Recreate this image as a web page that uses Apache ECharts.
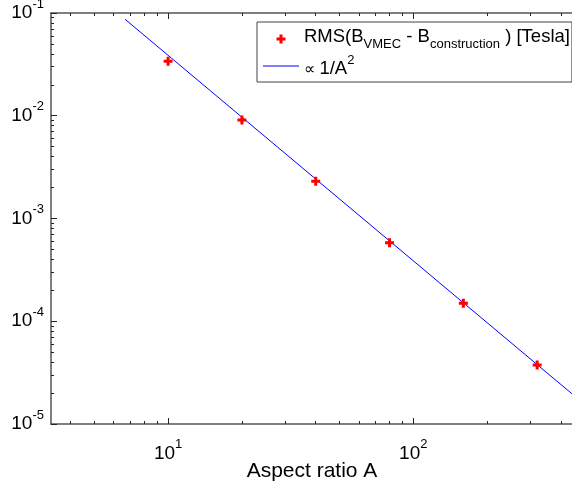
<!DOCTYPE html>
<html><head><meta charset="utf-8">
<script src="https://cdn.jsdelivr.net/npm/echarts@6/dist/echarts.min.js"></script>
<style>html,body{margin:0;padding:0;background:#fff}#c{width:572px;height:489px}</style>
</head><body><div id="c"></div>
<script>
const aspectRatios = [10, 20, 40, 80, 160, 320];
const rmsTesla = [0.0339, 0.0091, 0.0023, 0.000581, 0.000150, 0.0000375];
const fitA = [6.68, 448];
const fitValues = [0.0868, 0.0000193];
const xMajorTicks = [10, 100];
const xMinorTicks = [4, 5, 6, 7, 8, 9, 20, 30, 40, 50, 60, 70, 80, 90, 200, 300, 400];
const yMajorTicks = [0.00001, 0.0001, 0.001, 0.01, 0.1];
const yMinorTicks = [];
[0.00001, 0.0001, 0.001, 0.01].forEach(d => { for (let k = 2; k <= 9; k++) yMinorTicks.push(+(d * k).toPrecision(3)); });
const xName = 'Aspect ratio A';
const legendNames = ['rms', 'fit'];

const FONT = 'Liberation Sans, Arial, Helvetica, sans-serif';
const AX = '#555';
const plusPath = 'path://M3,0H6V3H9V6H6V9H3V6H0V3H3Z';
const linePath = 'path://M0,0H36V1H0Z';
const powRich = {
  b: { fontSize: 19, fontFamily: FONT, color: '#000', padding: [6, 0, 6, 0], verticalAlign: 'middle' },
  s: { fontSize: 13, fontFamily: FONT, color: '#000', verticalAlign: 'top' }
};
const powFmt = v => '{b|10}{s|' + Math.round(Math.log10(v)) + '}';
const xRange = { min: 3.33, max: 448 };
const yRange = { min: 0.00001, max: 0.1 };

function xAx(pos, major, labels) {
  return Object.assign({
    type: 'log', logBase: 10, position: pos, gridIndex: 0,
    axisLine: { show: major, onZero: false, lineStyle: { color: AX, width: 1.5 } },
    axisTick: { show: true, inside: true, length: major ? 6 : 3, customValues: major ? xMajorTicks : xMinorTicks, lineStyle: { color: '#222', width: 1 } },
    axisLabel: labels ? { show: true, customValues: xMajorTicks, formatter: powFmt, rich: powRich, margin: 14 } : { show: false },
    splitLine: { show: false }, minorTick: { show: false }
  }, xRange);
}
function yAx(major, labels) {
  return Object.assign({
    type: 'log', logBase: 10, position: 'left', gridIndex: 0,
    axisLine: { show: major, onZero: false, lineStyle: { color: AX, width: 1.5 } },
    axisTick: { show: true, inside: true, length: major ? 6 : 3, customValues: major ? yMajorTicks : yMinorTicks, lineStyle: { color: '#222', width: 1 } },
    axisLabel: labels ? { show: true, customValues: yMajorTicks, formatter: powFmt, rich: powRich, margin: 7 } : { show: false },
    splitLine: { show: false }, minorTick: { show: false }
  }, yRange);
}

const chart = echarts.init(document.getElementById('c'), null, { renderer: 'canvas' });
const xMain = xAx('bottom', true, true);
xMain.name = xName;
xMain.nameLocation = 'middle';
xMain.nameGap = 37;
xMain.nameMoveOverlap = false;
xMain.nameTextStyle = { fontSize: 21, fontFamily: FONT, color: '#000' };

chart.setOption({
  animation: false,
  backgroundColor: '#fff',
  grid: { left: 51, top: 13, width: 522, height: 411, containLabel: false, outerBoundsMode: 'none' },
  xAxis: [xMain, xAx('bottom', false, false), xAx('top', true, false), xAx('top', false, false)],
  yAxis: [yAx(true, true), yAx(false, false)],
  legend: {
    left: 257, top: 22, orient: 'vertical',
    padding: [5, 2, 4, 6], itemGap: 3, itemWidth: 36, itemHeight: 9,
    borderColor: '#444', borderWidth: 1, backgroundColor: '#fff',
    data: [{ name: legendNames[0], icon: plusPath }, { name: legendNames[1], icon: linePath }],
    formatter: n => n === 'rms'
      ? '{t|RMS(B}{u|VMEC}{t| - B}{u|construction}{t| ) [Tesla]}'
      : '{p|∝ }{t2|1/A}{v|2}',
    textStyle: {
      rich: {
        t: { fontSize: 18.5, fontFamily: FONT, color: '#000', padding: [0, 0, 5, 0], verticalAlign: 'bottom' },
        u: { fontSize: 13, fontFamily: FONT, color: '#000', verticalAlign: 'bottom' },
        p: { fontSize: 16, fontFamily: FONT, color: '#000', padding: [5, 0, 0, 0], verticalAlign: 'bottom' },
        t2: { fontSize: 18.5, fontFamily: FONT, color: '#000', padding: [5, 0, 0, 0], verticalAlign: 'bottom' },
        v: { fontSize: 13, fontFamily: FONT, color: '#000', verticalAlign: 'top' }
      }
    }
  },
  series: [
    {
      name: legendNames[0], type: 'scatter', xAxisIndex: 0, yAxisIndex: 0,
      symbol: plusPath, symbolSize: 9, symbolKeepAspect: true,
      itemStyle: { color: '#ff0000', opacity: 1 },
      data: aspectRatios.map((a, i) => [a, rmsTesla[i]]), z: 3
    },
    {
      name: legendNames[1], type: 'line', xAxisIndex: 0, yAxisIndex: 0,
      symbol: 'none', showSymbol: false, symbolKeepAspect: true,
      lineStyle: { color: '#0000ff', width: 1 }, itemStyle: { color: '#0000ff' },
      data: fitA.map((a, i) => [a, fitValues[i]]), z: 2
    }
  ]
});
</script></body></html>
